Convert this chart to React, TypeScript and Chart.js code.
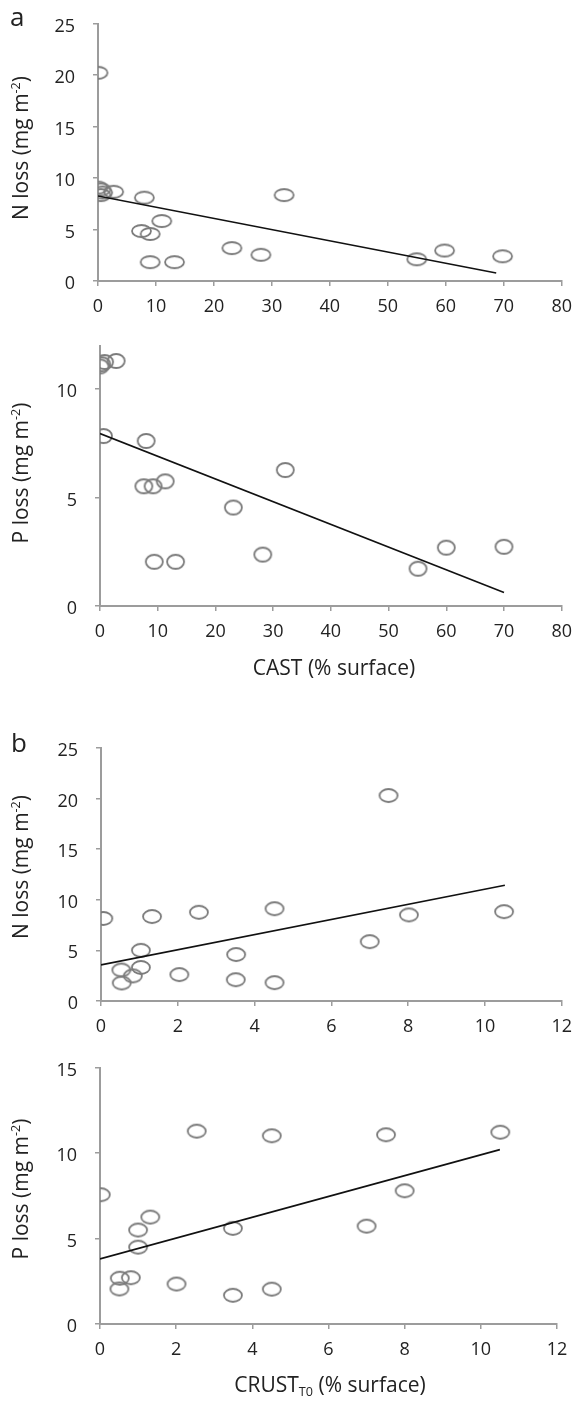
import React, { useEffect, useRef } from "react";
import { Chart, registerables } from "chart.js";
Chart.register(...registerables);

const FONT = "'Open Sans', sans-serif";

// ---- Panel a (top): CAST vs N loss ----
const castN_x = [0, 0, 0.5, 0.8, 0.5, 2.7, 8.0, 32.1, 11.0, 7.5, 9.0, 9.0, 13.2, 23.1, 28.1, 55.0, 59.8, 69.8];
const castN_y = [20.24, 9.08, 8.9, 8.6, 8.35, 8.67, 8.1, 8.35, 5.83, 4.86, 4.57, 1.83, 1.83, 3.2, 2.55, 2.11, 2.96, 2.4];
const castN_trendX = [0, 68.7];
const castN_trendY = [8.26, 0.78];

// ---- Panel a (bottom): CAST vs P loss ----
const castP_x = [0, 0.3, 0.8, 2.8, 0.6, 8.0, 32.1, 7.6, 9.2, 11.3, 23.1, 9.4, 13.1, 28.2, 55.1, 60.0, 70.0];
const castP_y = [11.05, 11.15, 11.25, 11.3, 7.84, 7.61, 6.27, 5.52, 5.52, 5.75, 4.54, 2.04, 2.04, 2.37, 1.72, 2.69, 2.73];
const castP_trendX = [0, 70];
const castP_trendY = [7.95, 0.62];

// ---- Panel b (top): CRUST T0 vs N loss ----
const crustN_x = [0.06, 1.33, 2.55, 4.52, 7.49, 8.02, 10.5, 7.0, 1.04, 3.52, 0.53, 1.04, 0.83, 0.54, 2.04, 3.51, 4.52];
const crustN_y = [8.15, 8.34, 8.76, 9.11, 20.29, 8.5, 8.82, 5.86, 5.0, 4.59, 3.06, 3.31, 2.48, 1.78, 2.61, 2.1, 1.81];
const crustN_trendX = [0, 10.52];
const crustN_trendY = [3.57, 11.43];

// ---- Panel b (bottom): CRUST T0 vs P loss ----
const crustP_x = [2.54, 4.51, 7.51, 10.51, 0.02, 8.0, 7.0, 1.32, 1.0, 3.49, 1.0, 0.52, 0.81, 0.51, 2.01, 3.49, 4.51];
const crustP_y = [11.29, 11.02, 11.08, 11.23, 7.57, 7.8, 5.73, 6.26, 5.5, 5.6, 4.5, 2.68, 2.71, 2.05, 2.34, 1.68, 2.04];
const crustP_trendX = [0, 10.5];
const crustP_trendY = [3.81, 10.21];

// ---- tick labels ----
const castTicks = [0, 10, 20, 30, 40, 50, 60, 70, 80];
const crustTicks = [0, 2, 4, 6, 8, 10, 12];
const nTicks = [0, 5, 10, 15, 20, 25];
const pTicksA = [0, 5, 10];
const pTicksB = [0, 5, 10, 15];

const AXIS = "#9c9c9c";
const MARK = "#7b7b7b";

function makeEllipse(w: number, h: number) {
  const c = document.createElement("canvas");
  c.width = w + 4;
  c.height = h + 4;
  const ctx = c.getContext("2d")!;
  ctx.strokeStyle = MARK;
  ctx.lineWidth = 1.8;
  ctx.beginPath();
  ctx.ellipse(c.width / 2, c.height / 2, w / 2, h / 2, 0, 0, Math.PI * 2);
  ctx.stroke();
  return c;
}

type PanelDef = {
  xs: number[];
  ys: number[];
  tx: number[];
  ty: number[];
  xMax: number;
  yMax: number;
  xTicks: number[];
  yTicks: number[];
  L: number;
  R: number;
  T: number;
  B: number;
  ew: number;
  eh: number;
};

const panels: PanelDef[] = [
  { xs: castN_x, ys: castN_y, tx: castN_trendX, ty: castN_trendY, xMax: 80, yMax: 25, xTicks: castTicks, yTicks: nTicks, L: 98, R: 564, T: 15, B: 281, ew: 19, eh: 12 },
  { xs: castP_x, ys: castP_y, tx: castP_trendX, ty: castP_trendY, xMax: 80, yMax: 12, xTicks: castTicks, yTicks: pTicksA, L: 100, R: 568, T: 337, B: 606, ew: 17, eh: 14 },
  { xs: crustN_x, ys: crustN_y, tx: crustN_trendX, ty: crustN_trendY, xMax: 12, yMax: 25, xTicks: crustTicks, yTicks: nTicks, L: 101, R: 562, T: 739, B: 1001, ew: 18, eh: 13 },
  { xs: crustP_x, ys: crustP_y, tx: crustP_trendX, ty: crustP_trendY, xMax: 12, yMax: 15, xTicks: crustTicks, yTicks: pTicksB, L: 100, R: 557, T: 1059, B: 1324, ew: 18, eh: 13 },
];

const TOP_PAD = 20;
const YW = 80;
const XH = 50;

function Panel({ def }: { def: PanelDef }) {
  const ref = useRef<HTMLCanvasElement | null>(null);
  const top = def.T - TOP_PAD;
  const h = def.B - def.T + TOP_PAD + XH + 5;
  useEffect(() => {
    const canvas = ref.current!;
    const pts = def.xs.map((x, i) => ({ x, y: def.ys[i] }));
    const trend = def.tx.map((x, i) => ({ x, y: def.ty[i] }));
    const tickFont = { family: FONT, size: 18 };
    const chart = new Chart(canvas, {
      type: "scatter",
      data: {
        datasets: [
          {
            data: trend,
            showLine: true,
            borderColor: "#111",
            borderWidth: 1.6,
            pointRadius: 0,
            fill: false,
          } as any,
          {
            data: pts,
            pointStyle: makeEllipse(def.ew, def.eh),
            pointRadius: 9,
          } as any,
        ],
      },
      options: {
        animation: false,
        responsive: false,
        maintainAspectRatio: false,
        devicePixelRatio: 1,
        layout: {
          padding: { left: def.L - YW, right: 582 - def.R, top: TOP_PAD, bottom: 5 },
        },
        plugins: { legend: { display: false }, tooltip: { enabled: false } },
        scales: {
          x: {
            type: "linear",
            min: 0,
            max: def.xMax,
            afterBuildTicks: (s: any) => {
              s.ticks = def.xTicks.map((v) => ({ value: v }));
            },
            afterFit: (s: any) => {
              s.height = XH;
            },
            ticks: { font: tickFont, color: "#222", padding: 10, maxRotation: 0 },
            grid: { display: true, drawOnChartArea: false, drawTicks: true, tickLength: 5, color: AXIS, lineWidth: 1.5 },
            border: { display: true, color: AXIS, width: 2 },
          },
          y: {
            type: "linear",
            min: 0,
            max: def.yMax,
            afterBuildTicks: (s: any) => {
              s.ticks = def.yTicks.map((v) => ({ value: v }));
            },
            afterFit: (s: any) => {
              s.width = YW;
            },
            ticks: { font: tickFont, color: "#222", padding: 18, labelOffset: 3 },
            grid: { display: true, drawOnChartArea: false, drawTicks: true, tickLength: 5, color: AXIS, lineWidth: 1.5 },
            border: { display: true, color: AXIS, width: 2 },
          },
        },
      } as any,
    });
    return () => chart.destroy();
  }, []);
  return (
    <canvas
      ref={ref}
      width={582}
      height={h}
      style={{ position: "absolute", left: 0, top, width: 582, height: h }}
    />
  );
}

const textStyle: React.CSSProperties = {
  position: "absolute",
  fontFamily: FONT,
  fontSize: 21,
  color: "#222",
  whiteSpace: "nowrap",
  lineHeight: 1,
};

function YTitle({ cy, text }: { cy: number; text: string }) {
  return (
    <div style={{ ...textStyle, left: 20, top: cy, transform: "translate(-50%, -50%) rotate(-90deg)" }}>
      {text} (mg m<sup style={{ fontSize: "0.6em", verticalAlign: "0.6em" }}>-2</sup>)
    </div>
  );
}

export default function App() {
  return (
    <div style={{ position: "absolute", left: 0, top: 0, width: 582, height: 1401, background: "#fff", overflow: "hidden" }}>
      {panels.map((p, i) => (
        <Panel key={i} def={p} />
      ))}
      <div style={{ ...textStyle, fontSize: 26, left: 10, top: 3 }}>a</div>
      <div style={{ ...textStyle, fontSize: 26, left: 11, top: 729 }}>b</div>
      <YTitle cy={148} text="N loss" />
      <YTitle cy={473} text="P loss" />
      <YTitle cy={867} text="N loss" />
      <YTitle cy={1189} text="P loss" />
      <div style={{ ...textStyle, left: 334, top: 667, transform: "translate(-50%, -50%)" }}>CAST (% surface)</div>
      <div style={{ ...textStyle, left: 330, top: 1386, transform: "translate(-50%, -50%)" }}>
        CRUST<sub style={{ fontSize: "0.6em", verticalAlign: "-0.3em" }}>T0</sub> (% surface)
      </div>
    </div>
  );
}
